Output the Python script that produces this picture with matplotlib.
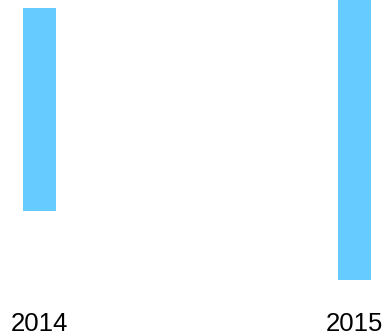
import matplotlib
matplotlib.use("Agg")
import matplotlib.pyplot as plt

# floating bars: (low, high)
years = ["2014", "2015"]
lows = [69, 0]
highs = [272, 280]

fig = plt.figure(figsize=(3.86, 3.35), dpi=100)
ax = fig.add_axes([0, 55 / 335, 1, 280 / 335])

pos = list(range(len(years)))
heights = [h - l for l, h in zip(lows, highs)]
ax.bar(pos, heights, bottom=lows, width=33 / 315, color="#66ccff")

ax.set_xlim(-39.5 / 315, 1 + 31.5 / 315)
ax.set_ylim(0, 280)
ax.set_xticks(pos)
ax.set_xticklabels(years, fontsize=18.5, family="Liberation Sans")
ax.tick_params(axis="x", length=0, pad=23)
ax.set_yticks([])
for s in ax.spines.values():
    s.set_visible(False)

fig.savefig("out.png", dpi=100)
